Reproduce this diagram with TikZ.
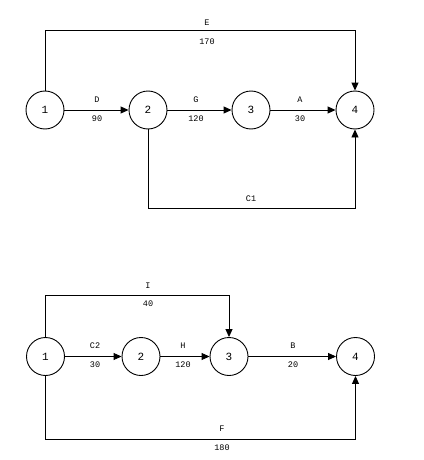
\documentclass[tikz,border=0pt]{standalone}
\usepackage{fontspec}
\setmainfont{Liberation Mono}
\usetikzlibrary{arrows.meta}
\begin{document}
\begin{tikzpicture}[x=1pt,y=-1pt,
  ev/.style={circle,draw,line width=0.9pt,minimum size=38pt,inner sep=0pt,font=\fontsize{11}{12}\selectfont},
  act/.style={line width=0.9pt,-{Triangle[length=8pt,width=7pt]}},
  lbl/.style={font=\fontsize{8.5}{9}\selectfont,inner sep=0pt}]
\useasboundingbox (0,0) rectangle (423,460);
% top network
\node[ev] (a1) at (45,110) {1};
\node[ev] (a2) at (148,110) {2};
\node[ev] (a3) at (251,110) {3};
\node[ev] (a4) at (355,110) {4};
\coordinate (ae1) at (45,30);
\coordinate (ae2) at (355,30);
\coordinate (ac1) at (148,208);
\coordinate (ac2) at (355,208);
\draw[act] (a1) -- (a2);
\draw[act] (a2) -- (a3);
\draw[act] (a3) -- (a4);
\draw[act] (a1.north) -- (ae1) -- (ae2) -- (a4.north);
\draw[act] (a2.south) -- (ac1) -- (ac2) -- (a4.south);
\node[lbl] (lD) at (97,100) {D};
\node[lbl] (l90) at (97,119) {90};
\node[lbl] (lG) at (196,100) {G};
\node[lbl] (l120a) at (196,119) {120};
\node[lbl] (lA) at (300,100) {A};
\node[lbl] (l30a) at (300,119) {30};
\node[lbl] (lE) at (207,23) {E};
\node[lbl] (l170) at (207,42) {170};
\node[lbl] (lC1) at (251,199) {C1};
% bottom network
\node[ev] (b1) at (45.5,356.5) {1};
\node[ev] (b2) at (141,356.5) {2};
\node[ev] (b3) at (229,356.5) {3};
\node[ev] (b4) at (355.5,356.5) {4};
\coordinate (bi1) at (45.5,295.5);
\coordinate (bi2) at (229,295.5);
\coordinate (bf1) at (45.5,439.5);
\coordinate (bf2) at (355.5,439.5);
\draw[act] (b1) -- (b2);
\draw[act] (b2) -- (b3);
\draw[act] (b3) -- (b4);
\draw[act] (b1.north) -- (bi1) -- (bi2) -- (b3.north);
\draw[act] (b1.south) -- (bf1) -- (bf2) -- (b4.south);
\node[lbl] (lC2) at (95,346) {C2};
\node[lbl] (l30b) at (95,365) {30};
\node[lbl] (lH) at (183,346) {H};
\node[lbl] (l120b) at (183,365) {120};
\node[lbl] (lB) at (293,346) {B};
\node[lbl] (l20) at (293,365) {20};
\node[lbl] (lI) at (148,286) {I};
\node[lbl] (l40) at (148,304) {40};
\node[lbl] (lF) at (222,429) {F};
\node[lbl] (l180) at (222,448) {180};
\end{tikzpicture}
\end{document}
